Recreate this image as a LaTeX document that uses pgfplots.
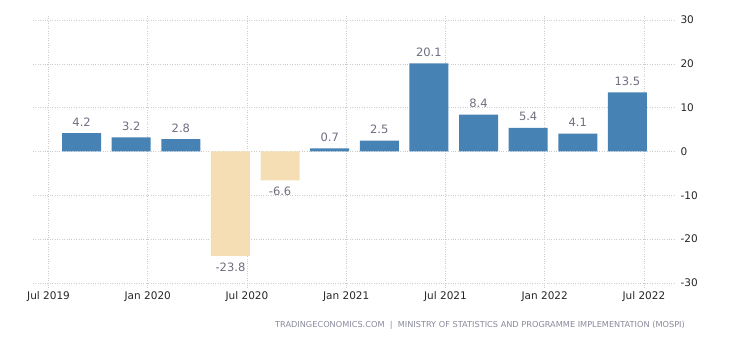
\documentclass[border=0pt]{standalone}
\usepackage{pgfplots}
\pgfplotsset{compat=1.18}
\usepackage{fontspec}
\setmainfont{DejaVu Sans}
\usetikzlibrary{calc}
\definecolor{barblue}{HTML}{4682B4}
\definecolor{barneg}{HTML}{F5DEB3}
\definecolor{lblgray}{HTML}{6E6E82}
\definecolor{gridc}{HTML}{CCCCCC}
\definecolor{footc}{HTML}{8A8A9C}
\begin{document}
\begin{tikzpicture}
\begin{axis}[
  scale only axis,
  width=642pt, height=263pt,
  xmin=-0.94, xmax=37.88,
  ymin=-30, ymax=30,
  ytick={-30,-20,...,30},
  xtick={0,6,12,18,24,30,36},
  xticklabels={Jul 2019,Jan 2020,Jul 2020,Jan 2021,Jul 2021,Jan 2022,Jul 2022},
  axis line style={draw=none},
  grid=major,
  major grid style={gridc, dotted, line width=0.6pt},
  yticklabel pos=right,
  ytick style={draw=none},
  xtick style={gridc, dotted, line width=0.6pt},
  tick align=outside,
  major tick length=4pt,
  yticklabel style={anchor=west, xshift=-2pt, font=\fontsize{10.5}{11}\selectfont, text=black!85},
  xticklabel style={font=\fontsize{10.5}{11}\selectfont, yshift=-1pt, text=black!85},
  /pgf/number format/assume math mode=true,
  ybar, bar width=39pt,
  nodes near coords={\pgfmathprintnumber[fixed,fixed zerofill,precision=1,assume math mode=true]{\pgfplotspointmeta}},
  every node near coord/.append style={font=\fontsize{11.5}{12}\selectfont, text=lblgray, inner sep=6.5pt},
  clip=false,
]
\addplot[fill=barblue, draw=none, bar shift=0pt] coordinates {
  (2,4.2) (5,3.2) (8,2.8) (17,0.7) (20,2.5) (23,20.1) (26,8.4) (29,5.4) (32,4.1) (35,13.5)
};
\addplot[fill=barneg, draw=none, bar shift=0pt] coordinates {
  (11,-23.8) (14,-6.6)
};
\end{axis}
\node[anchor=east, text=footc, font=\fontsize{8.2}{9}\selectfont, inner sep=0pt] at ($(current axis.south east)+(10pt,-42pt)$) {TRADINGECONOMICS.COM \ | \ MINISTRY OF STATISTICS AND PROGRAMME IMPLEMENTATION (MOSPI)};
\path[use as bounding box] ($(current axis.south west)+(-33pt,-57pt)$) rectangle ($(current axis.north east)+(55pt,20pt)$);
\end{tikzpicture}
\end{document}
